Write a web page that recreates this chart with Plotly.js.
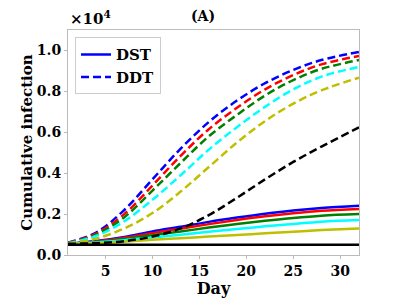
<!DOCTYPE html>
<html>
<head>
<meta charset="utf-8">
<script src="https://cdn.plot.ly/plotly-3.0.1.min.js"></script>
<style>html,body{margin:0;padding:0;background:#fff;}#chart{width:399px;height:300px;}</style>
</head>
<body>
<div id="chart"></div>
<script>
// Day values (x) and cumulative infection (in units of 10^4)
const days = [1, 4, 7, 10, 13, 16, 19, 22, 25, 28, 32];

// DST (solid lines)
const dstBlue   = [0.055, 0.068, 0.088, 0.115, 0.138, 0.162, 0.183, 0.202, 0.218, 0.230, 0.241];
const dstRed    = [0.055, 0.066, 0.084, 0.107, 0.129, 0.151, 0.171, 0.189, 0.204, 0.216, 0.225];
const dstGreen  = [0.055, 0.063, 0.078, 0.097, 0.115, 0.134, 0.151, 0.167, 0.181, 0.192, 0.200];
const dstCyan   = [0.055, 0.061, 0.072, 0.086, 0.099, 0.114, 0.127, 0.140, 0.152, 0.163, 0.171];
const dstYellow = [0.055, 0.058, 0.065, 0.074, 0.082, 0.090, 0.098, 0.106, 0.114, 0.122, 0.130];
const dstBlack  = [0.050, 0.050, 0.050, 0.050, 0.050, 0.050, 0.050, 0.050, 0.050, 0.050, 0.050];

// DDT (dashed lines)
const ddtBlue   = [0.060, 0.110, 0.220, 0.370, 0.520, 0.650, 0.755, 0.840, 0.905, 0.953, 0.993];
const ddtRed    = [0.060, 0.105, 0.200, 0.340, 0.485, 0.615, 0.720, 0.810, 0.880, 0.932, 0.973];
const ddtGreen  = [0.058, 0.100, 0.185, 0.315, 0.450, 0.580, 0.685, 0.780, 0.855, 0.910, 0.953];
const ddtCyan   = [0.057, 0.093, 0.165, 0.270, 0.390, 0.515, 0.625, 0.725, 0.810, 0.872, 0.920];
const ddtYellow = [0.055, 0.080, 0.130, 0.205, 0.310, 0.430, 0.550, 0.655, 0.740, 0.805, 0.867];
const ddtBlack  = [0.055, 0.058, 0.068, 0.090, 0.130, 0.195, 0.280, 0.370, 0.455, 0.530, 0.624];

const xTicks = [5, 10, 15, 20, 25, 30];
const yTicks = [0.0, 0.2, 0.4, 0.6, 0.8, 1.0];

const serif = "DejaVu Serif";
function tr(y, color, dash, name, show) {
  return {
    x: days, y: y, type: 'scatter', mode: 'lines',
    name: name, showlegend: show,
    line: {color: color, width: 2.5, dash: dash, shape: 'spline', smoothing: 1}
  };
}
const D = '8px,4px';
const data = [
  tr(dstBlue, '#0000ff', 'solid', 'DST', true),
  tr(ddtBlue, '#0000ff', D, 'DDT', true),
  tr(dstRed, '#ff0000', 'solid', 'r', false),
  tr(dstGreen, '#008000', 'solid', 'g', false),
  tr(dstCyan, '#00ffff', 'solid', 'c', false),
  tr(dstYellow, '#bfbf00', 'solid', 'y', false),
  tr(dstBlack, '#000000', 'solid', 'k', false),
  tr(ddtRed, '#ff0000', D, 'r2', false),
  tr(ddtGreen, '#008000', D, 'g2', false),
  tr(ddtCyan, '#00ffff', D, 'c2', false),
  tr(ddtYellow, '#bfbf00', D, 'y2', false),
  tr(ddtBlack, '#000000', D, 'k2', false)
];

const layout = {
  width: 399, height: 300,
  margin: {l: 68, r: 40, t: 30, b: 45},
  paper_bgcolor: '#ffffff', plot_bgcolor: '#ffffff',
  font: {family: serif, color: '#000', size: 14},
  xaxis: {
    range: [1, 32], tickvals: xTicks, ticktext: xTicks.map(String),
    showgrid: false, zeroline: false,
    showline: true, linecolor: '#bbbbbb', linewidth: 1, mirror: true,
    ticks: 'outside', ticklen: 3, tickcolor: '#bbbbbb',
    tickfont: {family: serif, size: 14, weight: 'bold', color: '#000'},
    title: {text: 'Day', font: {family: serif, size: 16, weight: 'bold', color: '#000'}, standoff: 1}
  },
  yaxis: {
    range: [0, 1.1], tickvals: yTicks, ticktext: yTicks.map(v => v.toFixed(1)),
    showgrid: false, zeroline: false,
    showline: true, linecolor: '#bbbbbb', linewidth: 1, mirror: true,
    ticks: 'outside', ticklen: 3, tickcolor: '#bbbbbb',
    tickfont: {family: serif, size: 14, weight: 'bold', color: '#000'},
    title: {text: 'Cumulative infection', font: {family: serif, size: 15, weight: 'bold', color: '#000'}, standoff: 0}
  },
  legend: {
    x: 0.024, y: 0.968, xanchor: 'left', yanchor: 'top',
    bgcolor: '#ffffff', bordercolor: '#cccccc', borderwidth: 1,
    font: {family: serif, size: 15, weight: 'bold', color: '#000'}
  },
  annotations: [
    {text: '(A)', xref: 'paper', yref: 'paper', x: 0.464, y: 1, yshift: 4,
     xanchor: 'center', yanchor: 'bottom', showarrow: false,
     font: {family: serif, size: 14, weight: 'bold', color: '#000'}},
    {text: '×10<sup>4</sup>', xref: 'paper', yref: 'paper', x: 0, y: 1, yshift: 0,
     xanchor: 'left', yanchor: 'bottom', showarrow: false,
     font: {family: serif, size: 15, weight: 'bold', color: '#000'}}
  ]
};

Plotly.newPlot('chart', data, layout, {displayModeBar: false, staticPlot: true});
</script>
</body>
</html>
